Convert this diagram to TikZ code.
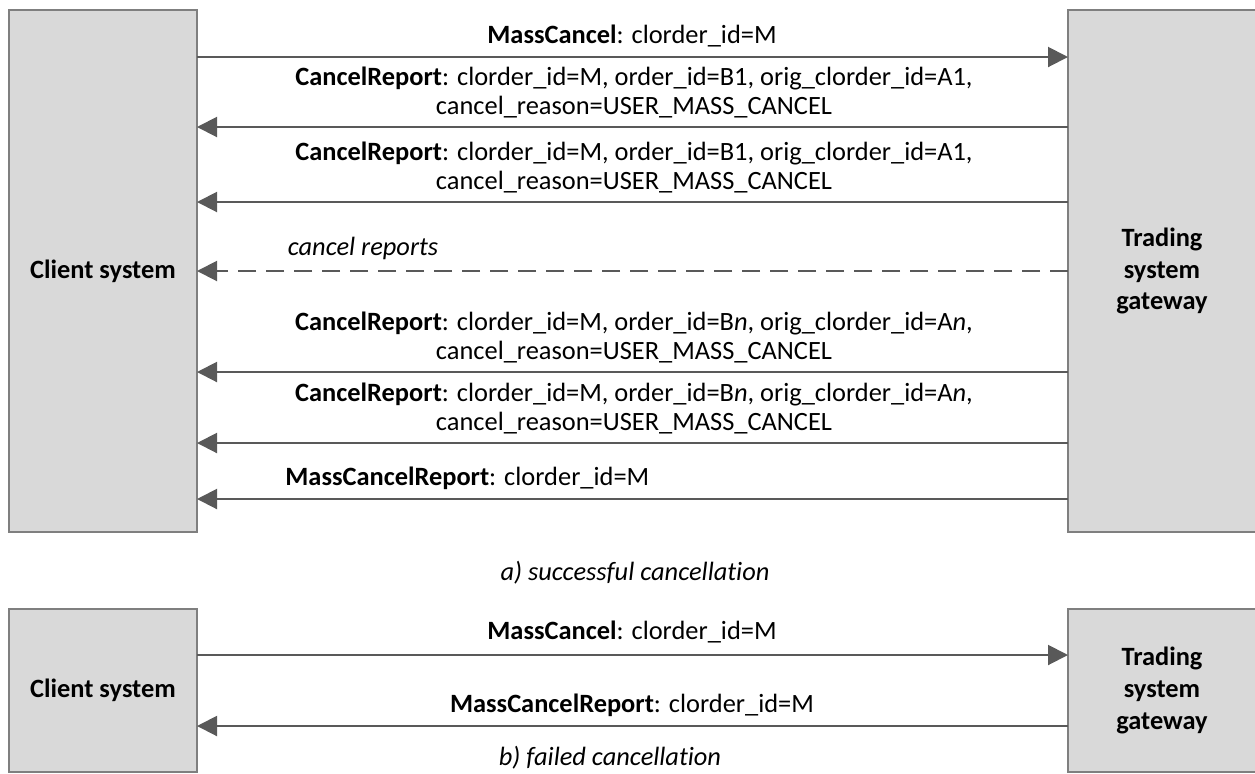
\documentclass[tikz,border=0pt]{standalone}
\usepackage{fontspec}
\setmainfont{Carlito}[Ligatures={NoCommon}]
\usetikzlibrary{arrows.meta}
\definecolor{boxfill}{HTML}{D9D9D9}
\definecolor{boxline}{HTML}{7F7F7F}
\definecolor{arrowc}{HTML}{595959}
\tikzset{
  sysbox/.style={draw=boxline, line width=0.75pt, fill=boxfill, anchor=north west,
    minimum width=94pt, inner sep=0pt, outer sep=0pt, align=center,
    font=\fontsize{13.2pt}{15.8pt}\selectfont\bfseries},
  msg/.style={draw=arrowc, line width=1pt, -{Triangle[length=10pt,width=10pt]}},
  dmsg/.style={msg, dash pattern=on 9pt off 5pt},
  lbl/.style={inner sep=0pt, align=center, font=\fontsize{13.2pt}{14.5pt}\selectfont},
  itlbl/.style={inner sep=0pt, font=\fontsize{13.2pt}{14.5pt}\selectfont\itshape}
}
\begin{document}
\begin{tikzpicture}[x=0.5pt,y=-0.5pt]
\useasboundingbox (0,0) rectangle (1255,773);
\clip (0,0) rectangle (1255,773);
% ---------- a) ----------
\node[sysbox, minimum height=261pt] (cs1) at (9,10) {Client system};
\node[sysbox, minimum height=261pt] (gw1) at (1068,10) {Trading\\system\\gateway};

\node[lbl] (l1) at (632,36) {\textbf{MassCancel}: clorder\_id=M};
\draw[msg] (cs1.east |- 0,57) -- (gw1.west |- 0,57);

\node[lbl] (l2) at (634,92.5) {\textbf{CancelReport}: clorder\_id=M, order\_id=B1, orig\_clorder\_id=A1,\\ cancel\_reason=USER\_MASS\_CANCEL};
\draw[msg] (gw1.west |- 0,127) -- (cs1.east |- 0,127);

\node[lbl] (l3) at (634,167.5) {\textbf{CancelReport}: clorder\_id=M, order\_id=B1, orig\_clorder\_id=A1,\\ cancel\_reason=USER\_MASS\_CANCEL};
\draw[msg] (gw1.west |- 0,202) -- (cs1.east |- 0,202);

\node[itlbl] (l4) at (363,248) {cancel reports};
\draw[dmsg] (gw1.west |- 0,271) -- (cs1.east |- 0,271);

\node[lbl] (l5) at (634,337.5) {\textbf{CancelReport}: clorder\_id=M, order\_id=B\textit{n}, orig\_clorder\_id=A\textit{n},\\ cancel\_reason=USER\_MASS\_CANCEL};
\draw[msg] (gw1.west |- 0,372) -- (cs1.east |- 0,372);

\node[lbl] (l6) at (634,408.5) {\textbf{CancelReport}: clorder\_id=M, order\_id=B\textit{n}, orig\_clorder\_id=A\textit{n},\\ cancel\_reason=USER\_MASS\_CANCEL};
\draw[msg] (gw1.west |- 0,443) -- (cs1.east |- 0,443);

\node[lbl, anchor=west] (l7) at (285,478) {\textbf{MassCancelReport}: clorder\_id=M};
\draw[msg] (gw1.west |- 0,499) -- (cs1.east |- 0,499);

\node[itlbl] (capa) at (635,573) {a) successful cancellation};

% ---------- b) ----------
\node[sysbox, minimum height=81.5pt] (cs2) at (9,609) {Client system};
\node[sysbox, minimum height=81.5pt] (gw2) at (1068,609) {Trading\\system\\gateway};

\node[lbl] (l8) at (632,632) {\textbf{MassCancel}: clorder\_id=M};
\draw[msg] (cs2.east |- 0,655) -- (gw2.west |- 0,655);

\node[lbl] (l9) at (632,705) {\textbf{MassCancelReport}: clorder\_id=M};
\draw[msg] (gw2.west |- 0,726) -- (cs2.east |- 0,726);

\node[itlbl] (capb) at (610,758) {b) failed cancellation};
\end{tikzpicture}
\end{document}
